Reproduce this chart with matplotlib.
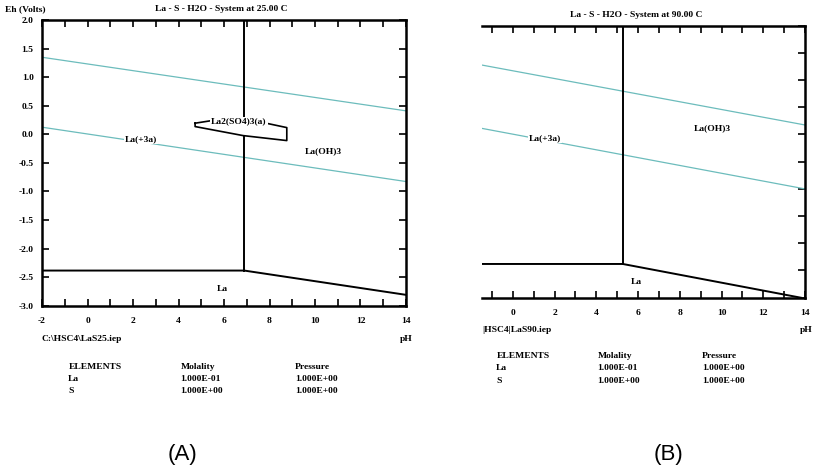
import matplotlib.pyplot as plt

ph_a = [-2, 14]
ox_a = [1.348, 0.41]
red_a = [0.124, -0.827]
vert_a_ph = 6.89
vert_a_top = [2.0, 0.243]
vert_a_bot = [-0.023, -2.385]
la_a_ph = [-2, 6.89, 14]
la_a_eh = [-2.385, -2.385, -2.81]
poly_ph = [4.73, 4.73, 6.84, 8.76, 8.76, 7.85, 6.66, 5.47, 4.73]
poly_eh = [0.194, 0.135, -0.023, -0.110, 0.117, 0.194, 0.243, 0.240, 0.194]

ph_b = [-1.5, 14]
ox_b = [1.278, 0.175]
red_b = [0.114, -1.0]
vert_b_ph = 5.27
vert_b_eh = [2.0, -2.38]
la_b_ph = [-1.5, 5.27, 13.8]
la_b_eh = [-2.38, -2.38, -3.0]

yticks = [2.0, 1.5, 1.0, 0.5, 0.0, -0.5, -1.0, -1.5, -2.0, -2.5, -3.0]
elements = ['La', 'S']
molality = ['1.000E-01', '1.000E+00']
pressure = ['1.000E+00', '1.000E+00']

cyan = '#6cbcbc'
serif = 'Liberation Serif'
fs = 6.8

W, H = 814, 473
fig = plt.figure(figsize=(W / 100, H / 100), dpi=100)


def fx(px):
    return px / W


def fy(py):
    return 1 - py / H


def setup(ax, x0, left_labels):
    for s in ax.spines.values():
        s.set_linewidth(1.8)
    xt = [v for v in range(-2, 15) if v >= x0]
    ax.set_xticks(xt)
    ax.set_xticklabels([str(v) if v % 2 == 0 else '' for v in xt])
    ax.set_yticks(yticks)
    ax.set_yticklabels(['%.1f' % v for v in yticks] if left_labels else [])
    ax.set_ylim(-3, 2)
    ax.set_xlim(x0, 14)
    ax.tick_params(direction='in', length=5, width=1.2, top=True, right=True,
                   labelsize=fs, pad=8)
    ax.tick_params(axis='y', pad=6)
    for lab in ax.get_xticklabels() + ax.get_yticklabels():
        lab.set_fontfamily(serif)
        lab.set_fontweight('bold')


def lab(ax, x, y, t):
    ax.text(x, y, t, fontsize=fs, family=serif, fontweight='bold',
            ha='center', va='center', zorder=5,
            bbox=dict(facecolor='white', edgecolor='none', pad=0.6))


# (A) 25 C
axa = fig.add_axes([fx(42), fy(305.7), fx(406 - 42), (305.7 - 20) / H])
setup(axa, -2, True)
axa.plot(ph_a, ox_a, color=cyan, lw=0.9)
axa.plot(ph_a, red_a, color=cyan, lw=0.9)
axa.plot([vert_a_ph, vert_a_ph], vert_a_top, color='black', lw=1.4)
axa.plot([vert_a_ph, vert_a_ph], vert_a_bot, color='black', lw=1.4)
axa.plot(la_a_ph, la_a_eh, color='black', lw=1.4)
axa.plot(poly_ph, poly_eh, color='black', lw=1.2)
lab(axa, 6.66, 0.222, 'La2(SO4)3(a)')
lab(axa, 2.35, -0.086, 'La(+3a)')
lab(axa, 10.37, -0.30, 'La(OH)3')
lab(axa, 5.93, -2.71, 'La')

tk = dict(fontsize=fs, family=serif, fontweight='bold')
fig.text(fx(5), fy(9), 'Eh (Volts)', ha='left', va='center', **tk)
fig.text(fx(221), fy(9), 'La - S - H2O - System at 25.00 C', ha='center', va='center', **tk)
fig.text(fx(42), fy(339), 'C:\\HSC4\\LaS25.iep', ha='left', va='center', **tk)
fig.text(fx(406), fy(339), 'pH', ha='center', va='center', **tk)

# (B) 90 C
axb = fig.add_axes([fx(481.7), fy(297.7), fx(805 - 481.7), (297.7 - 25.7) / H])
setup(axb, -1.49, False)
axb.spines['left'].set_visible(False)
axb.tick_params(axis='y', left=False)
axb.plot(ph_b, ox_b, color=cyan, lw=0.9)
axb.plot(ph_b, red_b, color=cyan, lw=0.9)
axb.plot([vert_b_ph, vert_b_ph], vert_b_eh, color='black', lw=1.4)
axb.plot(la_b_ph, la_b_eh, color='black', lw=1.4)
lab(axb, 1.55, -0.07, 'La(+3a)')
lab(axb, 9.57, 0.114, 'La(OH)3')
lab(axb, 5.93, -2.72, 'La')

fig.text(fx(635.7), fy(14.7), 'La - S - H2O - System at 90.00 C', ha='center', va='center', **tk)
fig.text(fx(482), fy(330), '|HSC4|LaS90.iep', ha='left', va='center', **tk)
fig.text(fx(806.7), fy(330), 'pH', ha='center', va='center', **tk)

# tableaux des elements
for (x1, x2, x3, y0, dy) in [(68, 180, 295, 366.7, 12), (496, 597, 702, 355.7, 12.5)]:
    fig.text(fx(x1 + 1), fy(y0), 'ELEMENTS', ha='left', va='center', **tk)
    fig.text(fx(x2 + 1), fy(y0), 'Molality', ha='left', va='center', **tk)
    fig.text(fx(x3), fy(y0), 'Pressure', ha='left', va='center', **tk)
    for i in range(len(elements)):
        yy = fy(y0 + dy * (i + 1))
        fig.text(fx(x1), yy, elements[i], ha='left', va='center', **tk)
        fig.text(fx(x2), yy, molality[i], ha='left', va='center', **tk)
        fig.text(fx(x3), yy, pressure[i], ha='left', va='center', **tk)

fig.text(fx(182.7), fy(454.3), '(A)', ha='center', va='center', fontsize=16, family='Liberation Sans')
fig.text(fx(668.3), fy(454.3), '(B)', ha='center', va='center', fontsize=16, family='Liberation Sans')

fig.savefig('out.png', dpi=100)
